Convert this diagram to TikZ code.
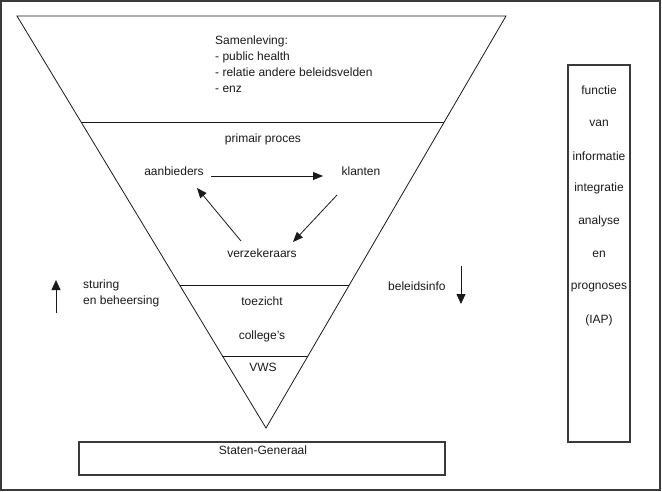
\documentclass[tikz,border=0pt]{standalone}
\usepackage{fontspec}
\setmainfont{Liberation Sans}
\usepackage{tikz}
\usepackage{xcolor}
\usetikzlibrary{arrows.meta,positioning,calc}
\definecolor{ink}{HTML}{1A1A1A}
\definecolor{framegray}{HTML}{3A3A3A}
\tikzset{
  lbl/.style={
    inner sep=2pt, font=\fontsize{12}{16}\selectfont, text=ink
  },
  laag/.style={draw=ink, line width=0.8pt},
  kader/.style={draw=framegray, line width=1.3pt},
  flow/.style={draw=ink, line width=0.8pt, -{Triangle[length=10pt,width=8pt]}},
  pijl/.style={draw=ink, line width=0.8pt, -{Triangle[length=10pt,width=9pt]}}
}

\begin{document}
\begin{tikzpicture}[x=1pt,y=-1pt]
  \useasboundingbox (0,0) rectangle (662,492);
  \draw[kader] (1,1) rectangle (660,490);

  % de omgekeerde driehoek
  \coordinate (tl) at (17,16);
  \coordinate (tr) at (506,16);
  \coordinate (apex) at (266,428);
  \draw[laag] (tl) -- (tr) -- (apex) -- cycle;
  \draw[laag] ($(tl)!0.2573!(apex)$) -- ($(tr)!0.2573!(apex)$);
  \draw[laag] ($(tl)!0.6529!(apex)$) -- ($(tr)!0.6529!(apex)$);
  \draw[laag] ($(tl)!0.8252!(apex)$) -- ($(tr)!0.8252!(apex)$);

  \node[lbl,anchor=north west,align=left] (samenleving) at (213,34) {%
    Samenleving:\\
    - public health\\
    - relatie andere beleidsvelden\\
    - enz};

  \node[lbl] (primair) at (263,139) {primair proces};
  \node[lbl] (aanbieders) at (174,171) {aanbieders};
  \node[lbl] (klanten) at (361,171) {klanten};
  \node[lbl] (verzekeraars) at (262,253) {verzekeraars};

  \draw[flow] ([xshift=37pt,yshift=-5pt]aanbieders.center) -- ([xshift=-38pt,yshift=-5pt]klanten.center);
  \draw[flow] ([xshift=-24pt,yshift=-24pt]klanten.center) -- ([xshift=31pt,yshift=11pt]verzekeraars.center);
  \draw[flow] ([xshift=-21pt,yshift=12pt]verzekeraars.center) -- ([xshift=23pt,yshift=-17pt]aanbieders.center);

  \node[lbl] (toezicht) at (262,301) {toezicht};
  \node[lbl] (colleges) at (262,336) {college's};
  \node[lbl] (vws) at (263,367) {VWS};

  % sturing en beleidsinfo
  \node[lbl,anchor=north west,align=left] (sturing) at (81,278) {sturing\\en beheersing};
  \coordinate (sturingvoet) at (56,313);
  \coordinate (sturingtop) at (56,280);
  \draw[pijl] (sturingvoet) -- (sturingtop);

  \node[lbl,anchor=base west] (beleidsinfo) at (386,290) {beleidsinfo};
  \coordinate (infotop) at (461,266);
  \coordinate (infovoet) at (461,304);
  \draw[pijl] (infotop) -- (infovoet);

  % functie IAP
  \draw[kader] (568,65) rectangle (630,442);
  \foreach \regel [count=\i from 0] in {functie,van,informatie,integratie,analyse,en,prognoses,(IAP)}
    \node[lbl] (iap\i) at (599,90+32.9*\i) {\regel};

  % Staten-Generaal
  \draw[kader] (79,442) rectangle (445,475);
  \node[lbl] (staten) at (263,450) {Staten-Generaal};
\end{tikzpicture}
\end{document}
